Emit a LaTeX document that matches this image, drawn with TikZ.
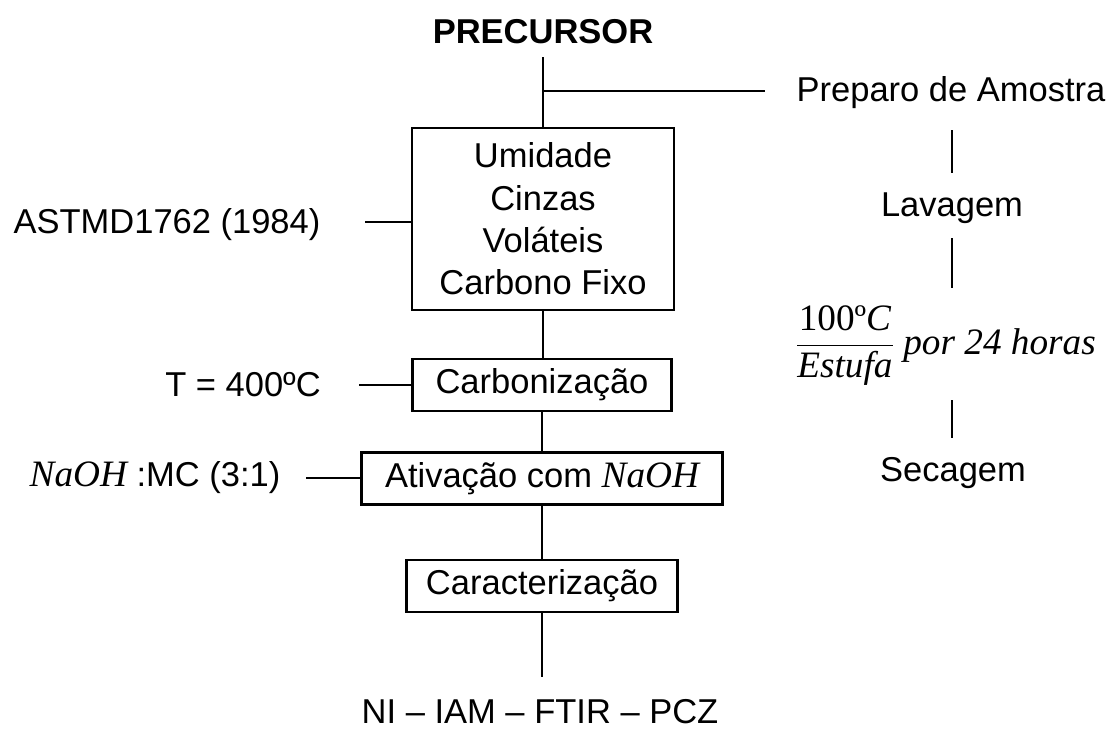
\RequirePackage{fix-cm}
\documentclass[tikz,border=0pt]{standalone}
\usepackage{amsmath}
\usepackage{fontspec}
\setmainfont{Liberation Sans}
\newfontfamily\serifm[Scale=1.08]{Liberation Serif}
\newcommand{\mitx}[1]{{\serifm\itshape #1}}
\begin{document}
\begin{tikzpicture}[x=1pt,y=-1pt,
  every node/.style={font=\fontsize{34.5}{42.3}\selectfont, inner sep=0pt},
  box/.style={draw, line width=2.6pt, minimum height=52pt},
  conn/.style={line width=2.6pt}]
\useasboundingbox (0,0) rectangle (1118,729);
% main column
\node[font=\fontsize{34.5}{42.3}\selectfont\bfseries] (prec) at (543,32) {PRECURSOR};
\node[box, minimum width=262pt, minimum height=182pt, align=center] (b1) at (543,219)
  {Umidade\\Cinzas\\Voláteis\\Carbono Fixo};
\node[box, minimum width=259pt] (carb) at (542,385) {Carbonização};
\node[box, minimum width=361pt] (act) at (542,478.5) {Ativação com \mitx{NaOH}};
\node[box, minimum width=271pt] (car) at (542,586) {Caracterização};
\node (res) at (540,712) {NI – IAM – FTIR – PCZ};
\coordinate (top) at (543,57);
\coordinate (jn) at (543,91);
\coordinate (prepW) at (765,91);
\coordinate (resN) at (542,677);
\draw[conn] (top) -- (b1.north);
\draw[conn] (jn) -- (prepW);
\draw[conn] (b1.south) -- (b1.south |- carb.north);
\draw[conn] (carb.south) -- (act.north);
\draw[conn] (act.south) -- (car.north);
\draw[conn] (car.south) -- (resN);
% left labels
\node (astm) at (167,225) {ASTMD1762 (1984)};
\node (temp) at (243,385) {T = 400ºC};
\node (ratio) at (155,478) {\mitx{NaOH} :MC (3:1)};
\coordinate (astmE) at (365,222);
\coordinate (tempE) at (359,385);
\coordinate (ratioE) at (306,478);
\draw[conn] (astmE) -- (astmE -| b1.west);
\draw[conn] (tempE) -- (tempE -| carb.west);
\draw[conn] (ratioE) -- (ratioE -| act.west);
% right column
\node (prep) at (951,93) {Preparo de Amostra};
\node (lav) at (952,208) {Lavagem};
\node (est) at (946,346) {$\dfrac{\text{\serifm 100º\itshape C}}{\text{\mitx{Estufa}}}$\ \mitx{por 24 horas}};
\node (sec) at (953,473) {Secagem};
\coordinate (l1a) at (952,130); \coordinate (l1b) at (952,173);
\coordinate (l2a) at (952,238); \coordinate (l2b) at (952,288);
\coordinate (l3a) at (952,400); \coordinate (l3b) at (952,438);
\draw[conn] (l1a) -- (l1b);
\draw[conn] (l2a) -- (l2b);
\draw[conn] (l3a) -- (l3b);
\end{tikzpicture}
\end{document}
